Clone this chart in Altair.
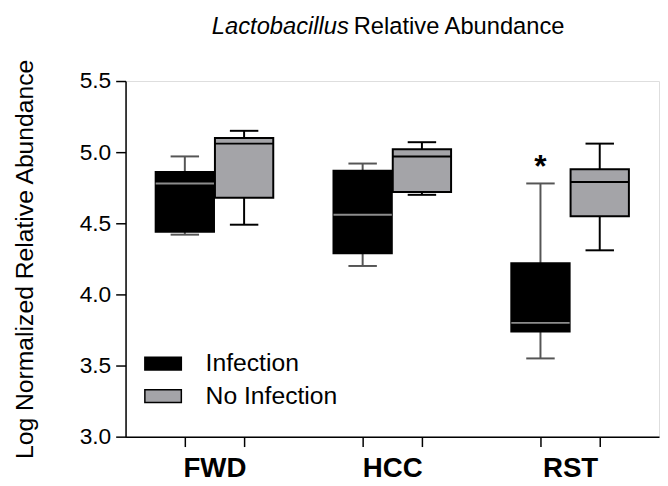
import altair as alt
import pandas as pd

# ---- data ----
groups = ["FWD", "HCC", "RST"]
conditions = ["Infection", "No Infection"]

inf_min = [4.42, 4.20, 3.55]
inf_q1 = [4.44, 4.29, 3.74]
inf_med = [4.78, 4.56, 3.80]
inf_q3 = [4.86, 4.87, 4.22]
inf_max = [4.97, 4.92, 4.78]

no_min = [4.49, 4.70, 4.31]
no_q1 = [4.68, 4.72, 4.55]
no_med = [5.06, 4.97, 4.79]
no_q3 = [5.10, 5.02, 4.88]
no_max = [5.15, 5.07, 5.06]

significance = ["", "", "*"]  # marker over the Infection box

title_parts = ["Lactobacillus", "Relative Abundance"]
y_title = "Log Normalized Relative Abundance"
y_ticks = [3.0, 3.5, 4.0, 4.5, 5.0, 5.5]

series = {
    "Infection": (inf_min, inf_q1, inf_med, inf_q3, inf_max),
    "No Infection": (no_min, no_q1, no_med, no_q3, no_max),
}

rows = []
for gi, g in enumerate(groups):
    for ci, c in enumerate(conditions):
        mn, q1, md, q3, mx = (s[gi] for s in series[c])
        rows.append(dict(group=g, cond=c, gi=gi, ci=ci, lo=mn, q1=q1, med=md,
                         q3=q3, hi=mx, sig=significance[gi] if ci == 0 else ""))
df = pd.DataFrame(rows)

FONT = "Liberation Sans"
HALF = 0.164   # half box width (x units)
CAP = 0.08     # half whisker-cap width

tick_vals = [gi + (ci - 0.5) / 3 for gi in range(len(groups)) for ci in range(len(conditions))]
label_expr = "".join(
    f"round(datum.value*6) == {6 * gi - 1} ? '{g}' : " for gi, g in enumerate(groups)
) + "''"

xscale = alt.Scale(domain=[-0.5, len(groups) - 0.5], nice=False, zero=False)
yscale = alt.Scale(domain=[3.0, 5.5], nice=False, zero=False)

xaxis = alt.Axis(values=tick_vals, labelExpr=label_expr, labelOffset=30,
                 labelFontSize=28, labelFontWeight="bold", labelFont=FONT,
                 labelColor="black", tickSize=10, tickWidth=1.5, tickColor="black",
                 domainColor="black", domainWidth=1.5, labelPadding=8,
                 labelOverlap=False, labelFlush=False, grid=False, title=None)
yaxis = alt.Axis(values=y_ticks, format=".1f", labelFontSize=23, labelFont=FONT,
                 labelColor="black", tickSize=10, tickWidth=1.5, tickColor="black",
                 domainColor="black", domainWidth=1.5, labelPadding=5, grid=False,
                 title=y_title, titleFont=FONT, titleFontSize=25,
                 titleFontWeight="normal", titleColor="black", titlePadding=42)

base = alt.Chart(df).transform_calculate(
    center="datum.gi + (datum.ci - 0.5) / 3",
).transform_calculate(
    left=f"datum.center - {HALF}",
    right=f"datum.center + {HALF}",
    capl=f"datum.center - {CAP}",
    capr=f"datum.center + {CAP}",
)

whisk_color = alt.condition("datum.ci == 0", alt.value("#555555"), alt.value("black"))

whisker = base.mark_rule(strokeWidth=2).encode(
    x=alt.X("center:Q", scale=xscale, axis=xaxis),
    y=alt.Y("lo:Q", scale=yscale, axis=yaxis),
    y2="hi:Q",
    stroke=whisk_color,
)
cap_lo = base.mark_rule(strokeWidth=2).encode(
    x=alt.X("capl:Q", scale=xscale, axis=xaxis), x2="capr:Q",
    y=alt.Y("lo:Q", scale=yscale, axis=yaxis), stroke=whisk_color,
)
cap_hi = base.mark_rule(strokeWidth=2).encode(
    x=alt.X("capl:Q", scale=xscale, axis=xaxis), x2="capr:Q",
    y=alt.Y("hi:Q", scale=yscale, axis=yaxis), stroke=whisk_color,
)
box = base.mark_bar(stroke="black", strokeWidth=2, opacity=1).encode(
    x=alt.X("left:Q", scale=xscale, axis=xaxis), x2="right:Q",
    y=alt.Y("q1:Q", scale=yscale, axis=yaxis), y2="q3:Q",
    fill=alt.Fill("cond:N", scale=alt.Scale(domain=conditions, range=["#000000", "#a4a4a8"]),
                  legend=alt.Legend(title=None, orient="none", legendX=24, legendY=272,
                                    symbolType="M-1.42,-0.5H1.42V0.5H-1.42Z", symbolSize=676,
                                    symbolStrokeColor="black", symbolStrokeWidth=1.5,
                                    symbolOpacity=1, labelFont=FONT, labelFontSize=25,
                                    labelColor="black", labelOffset=29, rowPadding=6,
                                    padding=0)),
)
median = base.mark_rule(strokeWidth=2).encode(
    x=alt.X("left:Q", scale=xscale, axis=xaxis), x2="right:Q",
    y=alt.Y("med:Q", scale=yscale, axis=yaxis),
    stroke=alt.condition("datum.ci == 0", alt.value("#8c8c8c"), alt.value("black")),
)
star = base.transform_filter("datum.sig != ''").mark_text(
    font=FONT, fontSize=32, fontWeight="bold", baseline="middle", dy=-17, color="black"
).encode(
    x=alt.X("center:Q", scale=xscale, axis=xaxis),
    y=alt.Y("hi:Q", scale=yscale, axis=yaxis),
    text="sig:N",
)

tdf = pd.DataFrame({"t": title_parts})
title_it = alt.Chart(tdf).transform_filter(f"datum.t == '{title_parts[0]}'").mark_text(
    font=FONT, fontSize=24, fontStyle="italic", align="right", baseline="alphabetic", color="black"
).encode(text="t:N", x=alt.value(226), y=alt.value(-48))
title_rest = alt.Chart(tdf).transform_filter(f"datum.t == '{title_parts[1]}'").mark_text(
    font=FONT, fontSize=24, align="left", baseline="alphabetic", color="black"
).encode(text="t:N", x=alt.value(231), y=alt.value(-48))

chart = alt.layer(whisker, cap_lo, cap_hi, box, median, star, title_it, title_rest).properties(
    width=540, height=360,
    autosize=alt.AutoSizeParams(type="none"),
    padding={"left": 119, "top": 71, "right": 1, "bottom": 46},
).configure_view(stroke=None).configure(background="white")

chart.save("out.html", embed_options={"renderer": "svg", "actions": False})
